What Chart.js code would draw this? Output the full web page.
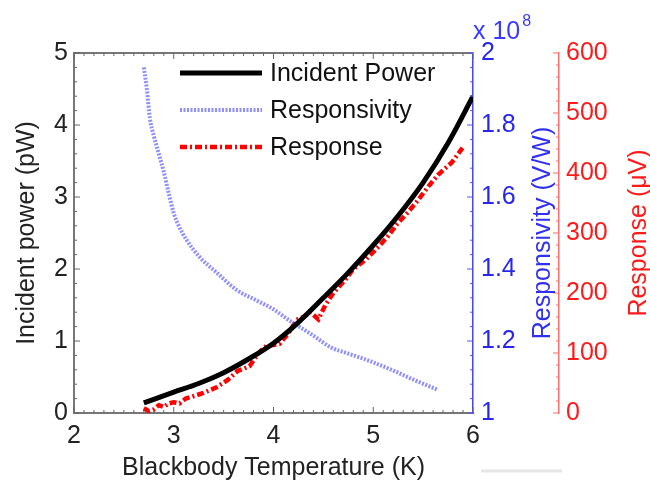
<!DOCTYPE html>
<html>
<head>
<meta charset="utf-8">
<script src="https://cdn.jsdelivr.net/npm/chart.js@4.4.0/dist/chart.umd.min.js"></script>
<style>
  html, body { margin: 0; padding: 0; background: #fff; }
  #chart { display: block; }
</style>
</head>
<body>
<canvas id="chart" width="650" height="485"></canvas>
<script>
// values
const powerTemp = [2.7, 3.0, 3.25, 3.5, 3.75, 4.0, 4.25, 4.5, 4.75, 5.0, 5.25, 5.5, 5.75, 6.0]
const powerValues = [0.14, 0.29, 0.41, 0.56, 0.75, 0.97, 1.26, 1.6, 1.95, 2.33, 2.74, 3.2, 3.75, 4.4]

const respTemp = [2.7, 2.73, 2.76, 2.8, 2.85, 2.9, 2.95, 3.0, 3.05, 3.13, 3.26, 3.43, 3.63, 3.85, 4.0, 4.17, 4.4, 4.57, 4.75, 4.94, 5.2, 5.4, 5.65]
const respValues = [1.96, 1.9, 1.82, 1.77, 1.72, 1.67, 1.61, 1.555, 1.52, 1.48, 1.433, 1.39, 1.342, 1.31, 1.288, 1.255, 1.215, 1.183, 1.165, 1.147, 1.118, 1.093, 1.064]

const signalTemp = [2.7, 2.75, 2.8, 2.85, 2.9, 2.95, 3.0, 3.06, 3.12, 3.18, 3.29, 3.43, 3.54, 3.64, 3.76, 3.85, 3.93, 4.06, 4.15, 4.23, 4.3, 4.37, 4.45, 4.52, 4.6, 4.72, 4.8, 4.92, 5.04, 5.14, 5.24, 5.35, 5.45, 5.54, 5.65, 5.79, 5.9]
const signalValues = [8, 3, 6, 13, 10, 16, 18, 16, 24, 27, 33, 43, 55, 70, 78, 100, 112, 115, 133, 155, 160, 168, 156, 180, 200, 222, 240, 255, 275, 293, 315, 335, 355, 375, 397, 418, 443]

const seriesLabels = ['Incident Power', 'Responsivity', 'Response']
const xTickStep = 1
const powerTickStep = 1
const respTickStep = 0.2
const signalTickStep = 100

const FONT = '"Liberation Sans", Arial, Helvetica, sans-serif'
const BLUE = '#2626ee'
const RED = '#ff1a1a'
Chart.defaults.font.family = FONT

const toPoints = (xs, ys) => xs.map((x, i) => ({ x: x, y: ys[i] }))

// MATLAB style inward ticks along every axis
const drawTicks = (ctx, scale, count, start, step, majorEvery, edge, dir, horizontal, color) => {
  ctx.strokeStyle = color
  ctx.lineWidth = 1
  for (let i = 0; i <= count; i++) {
    const p = scale.getPixelForValue(start + i * step)
    const len = i % majorEvery === 0 ? 6 : 3
    ctx.beginPath()
    if (horizontal) {
      ctx.moveTo(p, edge)
      ctx.lineTo(p, edge + dir * len)
    } else {
      ctx.moveTo(edge, p)
      ctx.lineTo(edge + dir * len, p)
    }
    ctx.stroke()
  }
}

const decorations = {
  id: 'decorations',
  afterDraw(chart) {
    const ctx = chart.ctx
    const area = chart.chartArea
    const { x, y, y1, y2 } = chart.scales
    ctx.save()

    // top border of the box
    ctx.strokeStyle = '#777'
    ctx.lineWidth = 2
    ctx.beginPath()
    ctx.moveTo(area.left, area.top)
    ctx.lineTo(area.right, area.top)
    ctx.stroke()

    drawTicks(ctx, x, 40, 2, 0.1, 10, area.bottom, -1, true, '#666')
    drawTicks(ctx, x, 40, 2, 0.1, 10, area.top, 1, true, '#666')
    drawTicks(ctx, y, 25, 0, 0.2, 5, area.left, 1, false, '#666')
    drawTicks(ctx, y1, 25, 1, 0.04, 5, y1.left, -1, false, '#5555ff')
    drawTicks(ctx, y2, 30, 0, 20, 5, y2.left, -1, false, '#ff6666')

    // right axis titles, reading bottom to top
    ctx.font = '25px ' + FONT
    ctx.textAlign = 'center'
    ctx.textBaseline = 'middle'
    const midY = (area.top + area.bottom) / 2
    ctx.save()
    ctx.translate(y1.left + 70, midY)
    ctx.rotate(-Math.PI / 2)
    ctx.fillStyle = '#3030ee'
    ctx.fillText('Responsivity (V/W)', 0, 0)
    ctx.restore()
    ctx.save()
    ctx.translate(y2.left + 80, midY)
    ctx.rotate(-Math.PI / 2)
    ctx.fillStyle = RED
    ctx.fillText('Response (\u03bcV)', 0, 0)
    ctx.restore()

    // exponent label of the responsivity axis
    ctx.textAlign = 'left'
    ctx.textBaseline = 'alphabetic'
    ctx.fillStyle = '#3a3aff'
    ctx.font = '25px ' + FONT
    ctx.fillText('x 10', y1.left, 39)
    const w = ctx.measureText('x 10').width
    ctx.font = '16px ' + FONT
    ctx.fillText('8', y1.left + w + 2, 26)

    // faint grey stroke under the right axes
    ctx.strokeStyle = '#e6e6e6'
    ctx.lineWidth = 3
    ctx.beginPath()
    ctx.moveTo(481, 471)
    ctx.lineTo(562, 471)
    ctx.stroke()

    // legend inside the plot box
    const rows = [73, 110, 147]
    chart.data.datasets.forEach((ds, i) => {
      ctx.strokeStyle = ds.borderColor
      ctx.lineWidth = ds.borderWidth
      ctx.setLineDash(ds.borderDash || [])
      ctx.beginPath()
      ctx.moveTo(180, rows[i])
      ctx.lineTo(262, rows[i])
      ctx.stroke()
      ctx.setLineDash([])
      ctx.fillStyle = '#111'
      ctx.font = '25px ' + FONT
      ctx.textBaseline = 'middle'
      ctx.fillText(ds.label, 270, rows[i] + 1)
    })
    ctx.restore()
  },
}

new Chart(document.querySelector('#chart'), {
  type: 'line',
  data: {
    datasets: [
      {
        label: seriesLabels[0],
        data: toPoints(powerTemp, powerValues),
        yAxisID: 'y',
        borderColor: '#000',
        borderWidth: 5,
        pointRadius: 0,
        cubicInterpolationMode: 'monotone',
      },
      {
        label: seriesLabels[1],
        data: toPoints(respTemp, respValues),
        yAxisID: 'y1',
        borderColor: 'rgba(95,95,255,0.7)',
        borderWidth: 4,
        borderDash: [2, 1.5],
        pointRadius: 0,
        cubicInterpolationMode: 'monotone',
      },
      {
        label: seriesLabels[2],
        data: toPoints(signalTemp, signalValues),
        yAxisID: 'y2',
        borderColor: '#ff0000',
        borderWidth: 4.5,
        borderDash: [7, 3, 2, 3],
        pointRadius: 0,
        tension: 0,
      },
    ],
  },
  options: {
    responsive: false,
    animation: false,
    devicePixelRatio: 1,
    layout: { padding: { top: 53, left: 0, right: 0, bottom: 0 } },
    plugins: {
      legend: { display: false },
      tooltip: { enabled: false },
    },
    scales: {
      x: {
        type: 'linear',
        min: 2,
        max: 6,
        ticks: { stepSize: xTickStep, color: '#222', font: { size: 25 }, padding: 8, maxRotation: 0 },
        grid: { display: false, drawTicks: false },
        border: { color: '#777', width: 2 },
        title: {
          display: true,
          text: 'Blackbody Temperature (K)',
          color: '#222',
          font: { size: 25 },
          padding: { top: 0, bottom: 2 },
        },
        afterFit: (s) => {
          s.height = 72
        },
      },
      y: {
        position: 'left',
        min: 0,
        max: 5,
        ticks: { stepSize: powerTickStep, color: '#222', font: { size: 25 }, padding: 6 },
        grid: { display: false, drawTicks: false },
        border: { color: '#777', width: 2 },
        title: {
          display: true,
          text: 'Incident power (pW)',
          color: '#222',
          font: { size: 25 },
          padding: { top: 12, bottom: 0 },
        },
        afterFit: (s) => {
          s.width = 74
        },
      },
      y1: {
        position: 'right',
        min: 1,
        max: 2,
        ticks: {
          stepSize: respTickStep,
          color: BLUE,
          font: { size: 25 },
          padding: 8,
          callback: (v) => String(+v.toFixed(1)),
        },
        grid: { display: false, drawTicks: false },
        border: { color: '#4444ff', width: 1.5 },
        afterFit: (s) => {
          s.width = 86
        },
      },
      y2: {
        position: 'right',
        min: 0,
        max: 600,
        ticks: { stepSize: signalTickStep, color: RED, font: { size: 25 }, padding: 7 },
        grid: { display: false, drawTicks: false },
        border: { color: '#ff7070', width: 1.5 },
        afterFit: (s) => {
          s.width = 91
        },
      },
    },
  },
  plugins: [decorations],
})
</script>
</body>
</html>
